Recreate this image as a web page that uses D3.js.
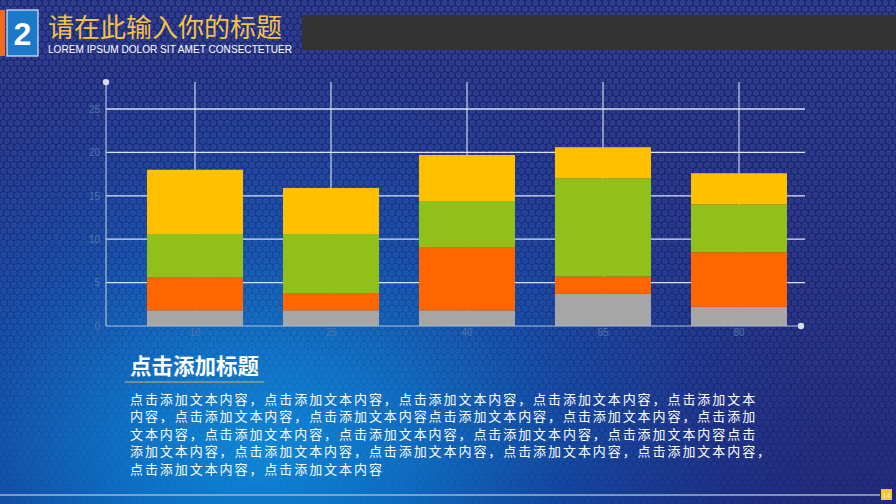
<!DOCTYPE html>
<html><head><meta charset="utf-8">
<script src="https://cdn.jsdelivr.net/npm/d3@7"></script>
<style>html,body{margin:0;padding:0;background:#16307f;}svg{display:block;}</style>
</head><body>
<script>
// ---- data ----
const categories = ["10", "25", "40", "65", "80"];
const seriesNames = ["灰", "橙", "绿", "黄"];
const grayValues   = [1.8, 1.8, 1.8, 3.7, 2.2];
const orangeValues = [3.8, 2.0, 7.3, 2.0, 6.3];
const greenValues  = [5.0, 6.8, 5.3, 11.3, 5.5];
const yellowValues = [7.4, 5.3, 5.3, 3.6, 3.6];
const yTicks = [0, 5, 10, 15, 20, 25];
const seriesColors = ["#a6a6a6", "#ff6600", "#92c01a", "#ffc000"];
const titleText = "请在此输入你的标题";
const subtitleText = "LOREM IPSUM DOLOR SIT AMET CONSECTETUER";
const sectionTitle = "点击添加标题";
const bodyLines = [
  "点击添加文本内容，点击添加文本内容，点击添加文本内容，点击添加文本内容，点击添加文本",
  "内容，点击添加文本内容，点击添加文本内容点击添加文本内容，点击添加文本内容，点击添加",
  "文本内容，点击添加文本内容，点击添加文本内容，点击添加文本内容，点击添加文本内容点击",
  "添加文本内容，点击添加文本内容，点击添加文本内容，点击添加文本内容，点击添加文本内容，",
  "点击添加文本内容，点击添加文本内容"
];
const pageNumber = "14";

const W = 896, H = 504;
const svg = d3.select("body").append("svg").attr("width", W).attr("height", H);
const defs = svg.append("defs");

// background gradients
const rg = defs.append("radialGradient").attr("id", "bgR")
  .attr("gradientUnits", "userSpaceOnUse").attr("cx", 260).attr("cy", 450).attr("r", 560)
  .attr("gradientTransform", "translate(260,450) scale(1,0.72) translate(-260,-450)");
rg.append("stop").attr("offset", "0").attr("stop-color", "#0b85d4");
rg.append("stop").attr("offset", "0.25").attr("stop-color", "#0a6cc0");
rg.append("stop").attr("offset", "0.55").attr("stop-color", "#10429a");
rg.append("stop").attr("offset", "0.82").attr("stop-color", "#1a2c80");
rg.append("stop").attr("offset", "1").attr("stop-color", "#1e2676");

const pat = defs.append("pattern").attr("id", "dots").attr("patternUnits", "userSpaceOnUse")
  .attr("width", 7).attr("height", 12);
[[3.5, 3], [0, 9], [7, 9]].forEach(([cx, cy]) => {
  pat.append("circle").attr("cx", cx).attr("cy", cy).attr("r", 2.4)
    .attr("fill", "rgba(110,160,240,0.17)").attr("stroke", "rgba(130,180,255,0.2)").attr("stroke-width", 0.7);
});
const fadeG = defs.append("linearGradient").attr("id", "fade").attr("x1", 0).attr("y1", 0).attr("x2", 0).attr("y2", 1);
fadeG.append("stop").attr("offset", "0").attr("stop-color", "#fff").attr("stop-opacity", 1);
fadeG.append("stop").attr("offset", "0.6").attr("stop-color", "#fff").attr("stop-opacity", 0.7);
fadeG.append("stop").attr("offset", "1").attr("stop-color", "#fff").attr("stop-opacity", 0.25);
defs.append("mask").attr("id", "fadeMask").append("rect").attr("width", W).attr("height", H).attr("fill", "url(#fade)");

svg.append("rect").attr("width", W).attr("height", H).attr("fill", "url(#bgR)");
svg.append("rect").attr("width", W).attr("height", H).attr("fill", "url(#dots)").attr("mask", "url(#fadeMask)");

// header
svg.append("rect").attr("x", 0).attr("y", 10).attr("width", 5).attr("height", 46).attr("fill", "#f26b1d");
svg.append("rect").attr("x", 7).attr("y", 10).attr("width", 31).attr("height", 46).attr("fill", "#1c78c8")
  .attr("stroke", "#dbe8f5").attr("stroke-width", 1.2);
svg.append("text").attr("x", 22.5).attr("y", 45).attr("text-anchor", "middle")
  .attr("font-family", "Liberation Sans, Arial, sans-serif").attr("font-weight", "bold")
  .attr("font-size", 32).attr("fill", "#ffffff").text("2");
svg.append("text").attr("x", 48).attr("y", 37)
  .attr("font-family", "Noto Sans CJK SC, sans-serif").attr("font-size", 26)
  .attr("fill", "#f3c244").text(titleText);
svg.append("text").attr("x", 48).attr("y", 52.5)
  .attr("font-family", "Liberation Sans, Arial, sans-serif").attr("font-size", 10)
  .attr("textLength", 244).attr("lengthAdjust", "spacingAndGlyphs")
  .attr("fill", "#ffffff").text(subtitleText);
svg.append("rect").attr("x", 302).attr("y", 15).attr("width", W - 302).attr("height", 35).attr("fill", "#333333");

// chart
const x = d3.scaleBand().domain(categories).range([127, 807]).paddingInner(0.294).paddingOuter(0.147);
const y = d3.scaleLinear().domain([0, 25]).range([326, 109]);
const yTop = y(28.1);
const xLeft = 106, xRight = 805;

const grid = svg.append("g");
grid.selectAll("line.h").data(yTicks.filter(d => d > 0)).join("line")
  .attr("x1", xLeft).attr("x2", xRight).attr("y1", d => y(d)).attr("y2", d => y(d))
  .attr("stroke", "#d9e3f2").attr("stroke-width", 1.3);
grid.selectAll("line.v").data(categories).join("line")
  .attr("x1", d => x(d) + x.bandwidth() / 2).attr("x2", d => x(d) + x.bandwidth() / 2)
  .attr("y1", yTop).attr("y2", y(0))
  .attr("stroke", "#d9e3f2").attr("stroke-width", 1.1);

const rows = categories.map((c, i) => ({ cat: c, s0: grayValues[i], s1: orangeValues[i], s2: greenValues[i], s3: yellowValues[i] }));
const stack = d3.stack().keys(["s0", "s1", "s2", "s3"])(rows);
svg.append("g").selectAll("g").data(stack).join("g")
  .attr("fill", (d, i) => seriesColors[i])
  .selectAll("rect").data(d => d).join("rect")
  .attr("x", d => x(d.data.cat)).attr("width", x.bandwidth())
  .attr("y", d => y(d[1])).attr("height", d => y(d[0]) - y(d[1]));

// axes lines
svg.append("line").attr("x1", xLeft).attr("x2", xLeft).attr("y1", yTop).attr("y2", y(0))
  .attr("stroke", "#a9bfdc").attr("stroke-width", 1.2);
svg.append("line").attr("x1", xLeft).attr("x2", 801).attr("y1", y(0)).attr("y2", y(0))
  .attr("stroke", "#a9bfdc").attr("stroke-width", 1.2);
svg.append("circle").attr("cx", xLeft).attr("cy", yTop).attr("r", 3.2).attr("fill", "#d8dde6");
svg.append("circle").attr("cx", 801).attr("cy", y(0)).attr("r", 3.2).attr("fill", "#d8dde6");

// tick labels
const yAxis = d3.axisLeft(y).tickValues(yTicks).tickSize(0).tickPadding(5);
const ya = svg.append("g").attr("transform", `translate(${xLeft - 1},0)`).call(yAxis);
ya.select(".domain").remove();
ya.selectAll("text").attr("fill", "#4f76aa").attr("font-size", 10).attr("font-family", "Liberation Sans, Arial, sans-serif");
const xAxis = d3.axisBottom(x).tickSize(0).tickPadding(3);
const xa = svg.append("g").attr("transform", `translate(0,${y(0)})`).call(xAxis);
xa.select(".domain").remove();
xa.selectAll("text").attr("fill", "#4f76aa").attr("font-size", 10).attr("font-family", "Liberation Sans, Arial, sans-serif");

// text block
svg.append("text").attr("x", 130).attr("y", 374)
  .attr("font-family", "Noto Sans CJK SC, sans-serif").attr("font-weight", "bold").attr("font-size", 21.5)
  .attr("fill", "#ffffff").text(sectionTitle);
svg.append("line").attr("x1", 125).attr("x2", 264).attr("y1", 382).attr("y2", 382)
  .attr("stroke", "#c9b36e").attr("stroke-width", 1.2);
svg.append("g").selectAll("text").data(bodyLines).join("text")
  .attr("x", 130).attr("y", (d, i) => 403.5 + i * 17.5)
  .attr("font-family", "Noto Sans CJK SC, sans-serif").attr("font-size", 13)
  .attr("letter-spacing", 1.93)
  .attr("fill", "#ffffff").text(d => d);

// footer
svg.append("line").attr("x1", 0).attr("x2", 880).attr("y1", 495).attr("y2", 495)
  .attr("stroke", "#9fb6c6").attr("stroke-width", 1.3);
svg.append("rect").attr("x", 881).attr("y", 489).attr("width", 11).attr("height", 11).attr("fill", "#f2c437");
svg.append("text").attr("x", 886.5).attr("y", 497.5).attr("text-anchor", "middle")
  .attr("font-family", "Liberation Sans, Arial, sans-serif").attr("font-size", 7)
  .attr("fill", "#fff7d0").text(pageNumber);
</script>
</body></html>
